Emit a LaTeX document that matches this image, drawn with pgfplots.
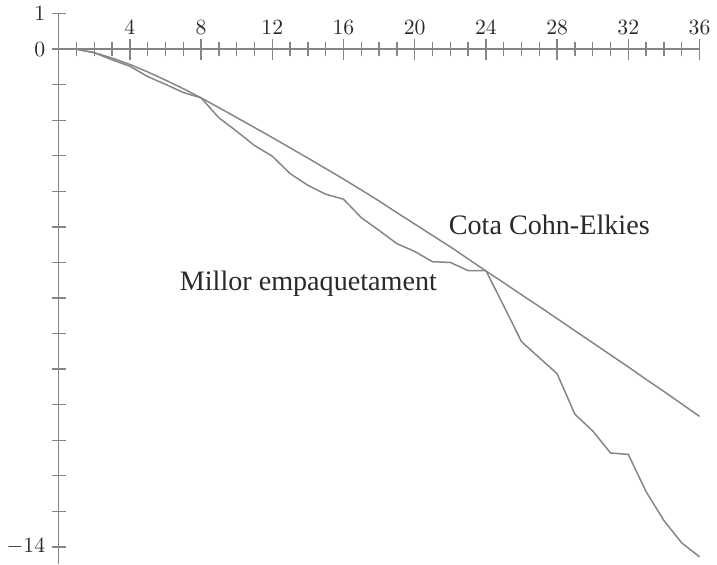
\documentclass[border=0pt]{standalone}
\usepackage{pgfplots}
\pgfplotsset{compat=1.18}
\usepackage{fontspec}
\newfontfamily\labelfont{Liberation Serif}
\definecolor{linegray}{HTML}{858585}
\definecolor{txtgray}{HTML}{2A2A2A}
\pgfplotstableread{
x y
1 0
2 -0.098
3 -0.30
4 -0.48
5 -0.77
6 -0.99
7 -1.22
8 -1.37
9 -1.93
10 -2.31
11 -2.71
12 -3.01
13 -3.50
14 -3.83
15 -4.08
16 -4.22
17 -4.74
18 -5.10
19 -5.47
20 -5.69
21 -5.98
22 -6.00
23 -6.23
24 -6.23
25 -7.22
26 -8.23
27 -8.68
28 -9.13
29 -10.27
30 -10.74
31 -11.36
32 -11.40
33 -12.45
34 -13.26
35 -13.89
36 -14.28
}\packing
\pgfplotstableread{
x y
1 0
2 -0.10
3 -0.25
4 -0.43
5 -0.64
6 -0.87
7 -1.11
8 -1.37
9 -1.645
10 -1.923
11 -2.204
12 -2.488
13 -2.775
14 -3.065
15 -3.358
16 -3.654
17 -3.96
18 -4.27
19 -4.60
20 -4.92
21 -5.24
22 -5.56
23 -5.90
24 -6.24
25 -6.57
26 -6.91
27 -7.24
28 -7.58
29 -7.92
30 -8.26
31 -8.60
32 -8.94
33 -9.29
34 -9.63
35 -9.98
36 -10.33
}\cohnelkies
\begin{document}
\begin{tikzpicture}
\begin{axis}[
  scale only axis, width=323.4pt, height=277.5pt,
  xmin=0, xmax=36, ymin=-14.47, ymax=1,
  axis lines=middle,
  axis line style={-, draw=linegray, line width=0.7pt},
  xtick={4,8,...,36},
  minor xtick={1,...,36},
  ytick={-14,0,1},
  minor ytick={-14,...,1},
  every major y tick/.append style={draw=none},
  tick style={draw=linegray, line width=0.7pt},
  tick align=center,
  major tick length=10.5pt,
  minor tick length=7pt,
  hide obscured x ticks=false, hide obscured y ticks=false,
  tick label style={font=\fontsize{11}{13}\selectfont, text=txtgray},
  x tick label style={anchor=south, yshift=9.2pt},
  y tick label style={xshift=2pt},
  clip=false,
]
\addplot[draw=linegray, line width=0.75pt, no marks] table[x=x,y=y] {\cohnelkies};
\addplot[draw=linegray, line width=0.75pt, no marks] table[x=x,y=y] {\packing};
\node[anchor=base, text=txtgray, font=\labelfont\fontsize{14.2}{16}\selectfont] at (axis cs:27.56,-5.21) {Cota Cohn-Elkies};
\node[anchor=base, text=txtgray, font=\labelfont\fontsize{14.2}{16}\selectfont] at (axis cs:14.03,-6.79) {Millor empaquetament};
\end{axis}
\end{tikzpicture}
\end{document}
